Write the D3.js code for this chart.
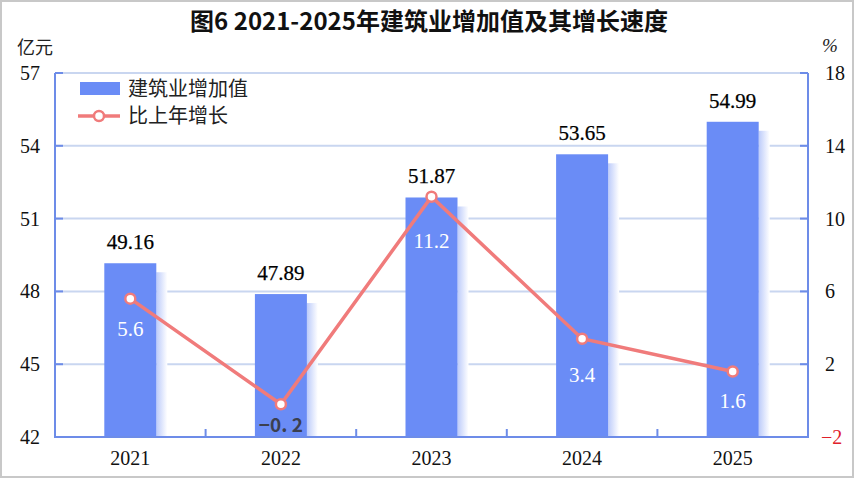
<!DOCTYPE html>
<html><head><meta charset="utf-8">
<script src="https://cdn.jsdelivr.net/npm/d3@7/dist/d3.min.js"></script>
<style>
html,body{margin:0;padding:0;background:#fff;}
svg{display:block;}
</style></head>
<body>
<svg id="c" width="854" height="479"></svg>
<script>
const years = ["2021","2022","2023","2024","2025"];
const valueAdded = [49.16, 47.89, 51.87, 53.65, 54.99];
const growth = [5.6, -0.2, 11.2, 3.4, 1.6];
const leftTicks = [42, 45, 48, 51, 54, 57];
const rightTicks = [-2, 2, 6, 10, 14, 18];
const growthLabelDy = [30, 21, 44, 36, 30];

const svg = d3.select("#c");
const W = 854, H = 479;
const m = {l:55, r:808, t:73, b:437};
const serif = "'Liberation Serif','DejaVu Serif',serif";
const cjk = "'Noto Sans CJK SC','Noto Sans',sans-serif";

svg.append("rect").attr("x",1).attr("y",1).attr("width",W-2).attr("height",H-3)
  .attr("fill","#fff").attr("stroke","#c8c8c8").attr("stroke-width",2);

const x = d3.scaleBand().domain(years).range([m.l, m.r]);
const yL = d3.scaleLinear().domain([42,57]).range([m.b, m.t]);
const yR = d3.scaleLinear().domain([-2,18]).range([m.b, m.t]);

const defs = svg.append("defs");
const g = defs.append("linearGradient").attr("id","sh").attr("x1","0").attr("x2","1").attr("y1","0").attr("y2","0");
g.append("stop").attr("offset","0").attr("stop-color","#bccbfa");
g.append("stop").attr("offset","1").attr("stop-color","#ffffff");

// gridlines
svg.append("g").selectAll("line").data(leftTicks.filter(t=>t>42)).join("line")
  .attr("x1",m.l).attr("x2",m.r).attr("y1",d=>yL(d)).attr("y2",d=>yL(d))
  .attr("stroke","#c9d6f0").attr("stroke-width",2);

const bw = 52;
// bar shadows
svg.append("g").selectAll("rect").data(valueAdded).join("rect")
  .attr("x",(d,i)=>x(years[i])+x.bandwidth()/2+bw/2)
  .attr("y",d=>yL(d)+9).attr("width",11).attr("height",d=>m.b-yL(d)-9)
  .attr("fill","url(#sh)");
// bars
svg.append("g").selectAll("rect").data(valueAdded).join("rect")
  .attr("x",(d,i)=>x(years[i])+x.bandwidth()/2-bw/2)
  .attr("y",d=>yL(d)).attr("width",bw).attr("height",d=>m.b-yL(d))
  .attr("fill","#6a8cf6");

// axes
const axisColor = "#6d8ce8";
svg.append("line").attr("x1",m.l).attr("x2",m.l).attr("y1",m.t).attr("y2",m.b+1).attr("stroke",axisColor).attr("stroke-width",2);
svg.append("line").attr("x1",m.r).attr("x2",m.r).attr("y1",m.t).attr("y2",m.b+1).attr("stroke",axisColor).attr("stroke-width",2);
svg.append("line").attr("x1",m.l-1).attr("x2",m.r+1).attr("y1",m.b).attr("y2",m.b).attr("stroke",axisColor).attr("stroke-width",2);

// left ticks
svg.append("g").selectAll("line").data(leftTicks).join("line")
  .attr("x1",m.l).attr("x2",m.l+8).attr("y1",d=>yL(d)).attr("y2",d=>yL(d))
  .attr("stroke",axisColor).attr("stroke-width",2);
svg.append("g").selectAll("line").data(rightTicks).join("line")
  .attr("x1",m.r-8).attr("x2",m.r).attr("y1",d=>yR(d)).attr("y2",d=>yR(d))
  .attr("stroke",axisColor).attr("stroke-width",2);
// x ticks between categories
svg.append("g").selectAll("line").data(years.slice(1)).join("line")
  .attr("x1",d=>x(d)).attr("x2",d=>x(d)).attr("y1",m.b-8).attr("y2",m.b)
  .attr("stroke",axisColor).attr("stroke-width",2);

// left tick labels
svg.append("g").selectAll("text").data(leftTicks).join("text")
  .attr("x",40).attr("y",d=>yL(d)+7).attr("text-anchor","end")
  .attr("font-family",serif).attr("font-size",20).attr("fill","#111")
  .text(d=>d);
svg.append("g").selectAll("text").data(rightTicks).join("text")
  .attr("x",d=>d<0?821:825).attr("y",d=>yR(d)+7).attr("text-anchor","start")
  .attr("font-family",serif).attr("font-size",20).attr("fill",d=>d<0?"#e0202a":"#111")
  .text(d=>d<0?"\u2212"+Math.abs(d):d);
// x labels
svg.append("g").selectAll("text").data(years).join("text")
  .attr("x",d=>x(d)+x.bandwidth()/2).attr("y",465).attr("text-anchor","middle")
  .attr("font-family",serif).attr("font-size",20).attr("fill","#111")
  .text(d=>d);

// units
svg.append("text").attr("x",17).attr("y",54).attr("font-family",cjk).attr("font-size",18).attr("fill","#222").text("亿元");
svg.append("text").attr("x",822).attr("y",52).attr("font-family",serif).attr("font-style","italic").attr("font-size",19).attr("fill","#222").text("%");

// title
svg.append("text").attr("x",429).attr("y",30).attr("text-anchor","middle")
  .attr("font-family",cjk).attr("font-weight","bold").attr("font-size",24).attr("fill","#111")
  .text("图6 2021-2025年建筑业增加值及其增长速度");

// bar value labels
svg.append("g").selectAll("text").data(valueAdded).join("text")
  .attr("x",(d,i)=>x(years[i])+x.bandwidth()/2).attr("y",d=>yL(d)-14)
  .attr("text-anchor","middle").attr("font-family",serif).attr("font-size",21)
  .attr("fill","#000").attr("stroke","#000").attr("stroke-width",0.25)
  .text(d=>d.toFixed(2));

// line
const cx = (i)=>x(years[i])+x.bandwidth()/2;
svg.append("path").datum(growth)
  .attr("d",d3.line().x((d,i)=>cx(i)).y(d=>yR(d)))
  .attr("fill","none").attr("stroke","#f07b7b").attr("stroke-width",3.5);
svg.append("g").selectAll("circle").data(growth).join("circle")
  .attr("cx",(d,i)=>cx(i)).attr("cy",d=>yR(d)).attr("r",5)
  .attr("fill","#fff").attr("stroke","#f07b7b").attr("stroke-width",2.5);

// growth labels
svg.append("g").selectAll("text").data(growth).join("text")
  .attr("x",(d,i)=>cx(i)).attr("y",(d,i)=>yR(d)+growthLabelDy[i]+7)
  .attr("text-anchor","middle")
  .attr("font-family",d=>d<0?cjk:serif).attr("font-weight",d=>d<0?"bold":"normal")
  .attr("font-size",d=>d<0?19:21)
  .attr("fill",d=>d<0?"#3b3f4f":"#fff")
  .text(d=>d<0?"\u2212"+Math.abs(d).toFixed(1).replace(".",". "):d.toFixed(1));

// legend
svg.append("rect").attr("x",80).attr("y",82).attr("width",40).attr("height",13).attr("fill","#6a8cf6");
svg.append("text").attr("x",128).attr("y",96).attr("font-family",cjk).attr("font-size",20).attr("fill","#222").text("建筑业增加值");
svg.append("line").attr("x1",78).attr("x2",120).attr("y1",116).attr("y2",116).attr("stroke","#f07b7b").attr("stroke-width",3.5);
svg.append("circle").attr("cx",99).attr("cy",116).attr("r",5).attr("fill","#fff").attr("stroke","#f07b7b").attr("stroke-width",2.5);
svg.append("text").attr("x",128).attr("y",123).attr("font-family",cjk).attr("font-size",20).attr("fill","#222").text("比上年增长");
</script>
</body></html>
